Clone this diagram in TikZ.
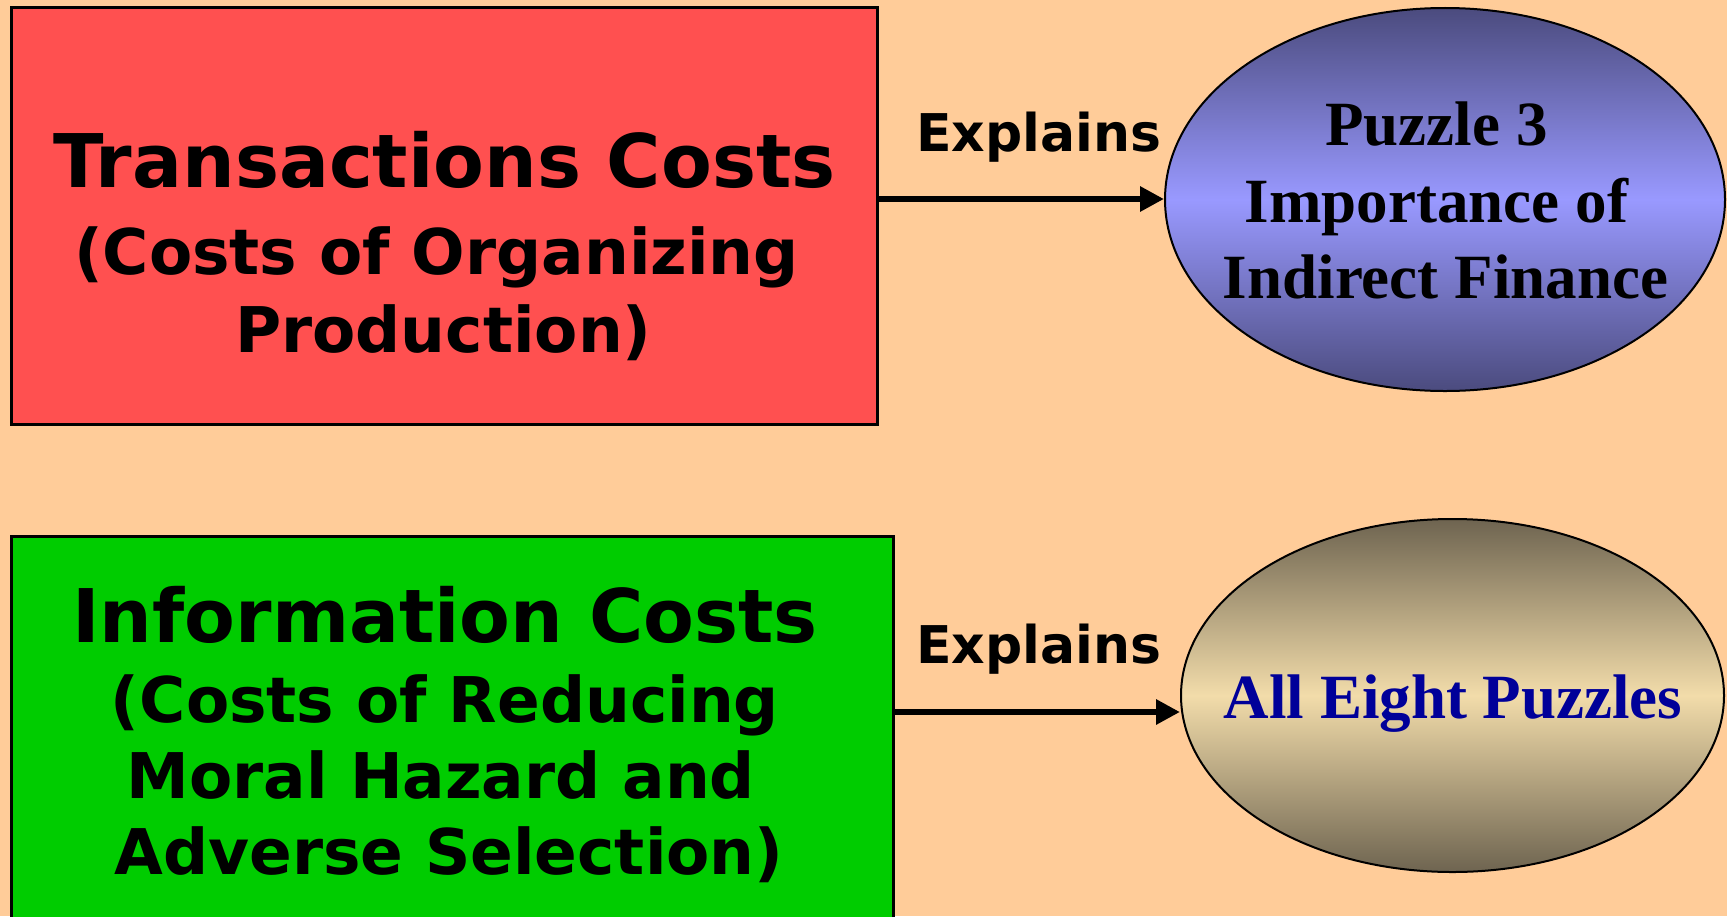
\documentclass[tikz,border=0pt]{standalone}
\usepackage{fontspec}
\usetikzlibrary{shapes.geometric,arrows.meta}

\newfontfamily\verdfont{DejaVu Sans}
\newfontfamily\timesfont{Liberation Serif}

\definecolor{paper}{HTML}{FFCC99}
\definecolor{costred}{HTML}{FF5050}
\definecolor{costgreen}{HTML}{00CC00}
\definecolor{slatedark}{HTML}{4B4B7E}
\definecolor{slatelight}{HTML}{9999FF}
\definecolor{tandark}{HTML}{6E6450}
\definecolor{tanlight}{HTML}{F2DCAA}
\definecolor{puzzleblue}{HTML}{000099}

\tikzset{
  costbox/.style={draw=black, line width=3bp, inner sep=0pt},
  puzzleoval/.style={ellipse, draw=black, line width=2bp, inner sep=0pt},
  headline/.style={anchor=base, font=\verdfont\bfseries\fontsize{74bp}{80bp}\selectfont},
  subline/.style={anchor=base, font=\verdfont\bfseries\fontsize{63bp}{70bp}\selectfont},
  serifline/.style={anchor=base, font=\timesfont\bfseries\fontsize{63bp}{70bp}\selectfont},
  verb/.style={anchor=base, font=\verdfont\bfseries\fontsize{52bp}{60bp}\selectfont},
  link/.style={line width=6.5bp, -{Triangle[length=24bp,width=24bp]}}
}

\begin{document}
\begin{tikzpicture}[x=1bp,y=-1bp]
\useasboundingbox (0,0) rectangle (1727,916);
\fill[paper] (0,0) rectangle (1727,916);
\clip (0,0) rectangle (1727,916);

% boxes on the left
\node[costbox, fill=costred, minimum width=865bp, minimum height=416bp] (trans) at (444.5,216) {};
\node[costbox, fill=costgreen, minimum width=881bp, minimum height=414bp] (info) at (452.5,743) {};

% ovals on the right
\node[puzzleoval, top color=slatedark, bottom color=slatedark, middle color=slatelight,
      minimum width=560bp, minimum height=383bp] (puz) at (1445,199.5) {};
\node[puzzleoval, top color=tandark, bottom color=tandark, middle color=tanlight,
      minimum width=543bp, minimum height=353bp] (all) at (1452.5,695.5) {};

% box texts
\node[headline] (tc1) at (444.5,187) {Transactions Costs};
\node[subline] (tc2) at (436.5,274) {(Costs of Organizing};
\node[subline] (tc3) at (443.5,352) {Production)};
\node[headline] (ic1) at (445,642) {Information Costs};
\node[subline] (ic2) at (445,722) {(Costs of Reducing};
\node[subline] (ic3) at (441,798) {Moral Hazard and};
\node[subline] (ic4) at (449,874) {Adverse Selection)};

% oval texts
\node[serifline] (pz1) at (1436.5,145) {Puzzle 3};
\node[serifline] (pz2) at (1436.5,222) {Importance of};
\node[serifline] (pz3) at (1445.5,298) {Indirect Finance};
\node[serifline, text=puzzleblue] (ae) at (1453,718) {All Eight Puzzles};

% arrows
\coordinate (h1) at (0,199);
\coordinate (h2) at (0,712);
\foreach \from/\to/\h in {trans/puz/h1,info/all/h2}
\draw[link] (\from.east |- \h) -- (\to.west |- \h);
\node[verb] (ex1) at (1038.5,151) {Explains};
\node[verb] (ex2) at (1038.5,663) {Explains};
\end{tikzpicture}
\end{document}
